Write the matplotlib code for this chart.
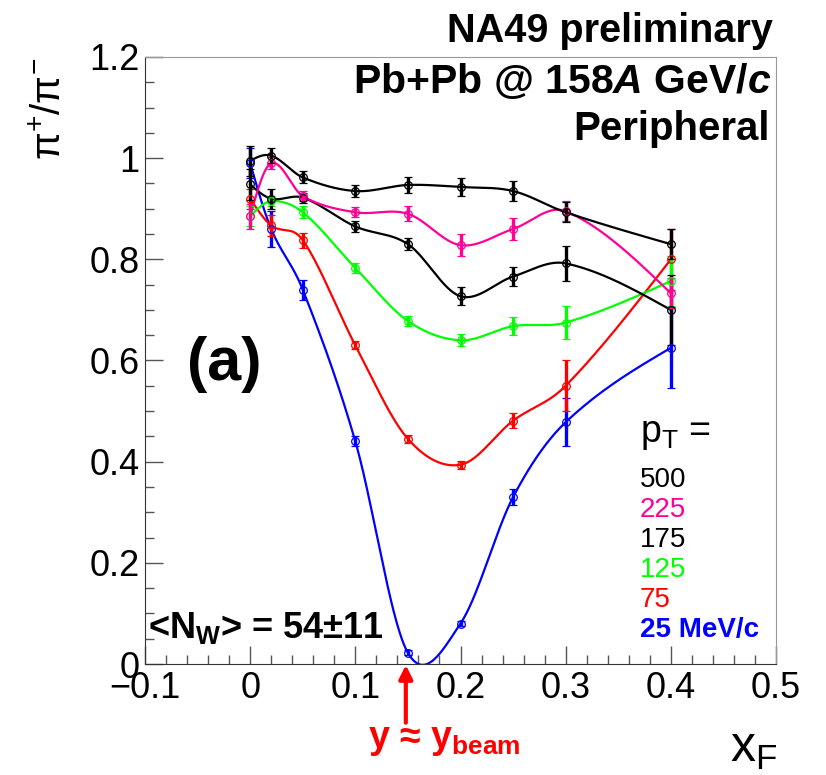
import numpy as np
import matplotlib
matplotlib.use("Agg")
import matplotlib.pyplot as plt

plt.rcParams['font.family'] = ['Liberation Sans', 'DejaVu Sans']
plt.rcParams['mathtext.fontset'] = 'custom'
plt.rcParams['mathtext.rm'] = 'Liberation Sans'
plt.rcParams['mathtext.it'] = 'Liberation Sans:italic:bold'
plt.rcParams['mathtext.bf'] = 'Liberation Sans:bold'

# data
x_f = [0, 0.02, 0.05, 0.1, 0.15, 0.2, 0.25, 0.3, 0.4]

r_500 = [0.995, 1.005, 0.962, 0.935, 0.947, 0.943, 0.935, 0.893, 0.830]
e_500 = [0.03, 0.015, 0.012, 0.012, 0.015, 0.017, 0.02, 0.02, 0.03]
r_225 = [0.885, 0.99, 0.925, 0.893, 0.89, 0.828, 0.86, 0.895, 0.733]
e_225 = [0.025, 0.012, 0.01, 0.01, 0.015, 0.022, 0.022, 0.02, 0.03]
r_175 = [0.948, 0.92, 0.922, 0.865, 0.83, 0.727, 0.766, 0.792, 0.70]
e_175 = [0.03, 0.02, 0.01, 0.01, 0.012, 0.018, 0.018, 0.035, 0.07]
r_125 = [0.885, 0.915, 0.893, 0.783, 0.678, 0.64, 0.668, 0.675, 0.757]
e_125 = [0.02, 0.01, 0.012, 0.01, 0.01, 0.012, 0.018, 0.032, 0.05]
r_75 = [0.92, 0.867, 0.838, 0.63, 0.445, 0.394, 0.481, 0.55, 0.80]
e_75 = [0.02, 0.02, 0.015, 0.008, 0.008, 0.008, 0.015, 0.05, 0.06]
r_25 = [0.99, 0.86, 0.74, 0.44, 0.022, 0.08, 0.33, 0.478, 0.625]
e_25 = [0.03, 0.035, 0.02, 0.01, 0.005, 0.005, 0.015, 0.048, 0.08]

pt_labels = ['500', '225', '175', '125', '75', '25 MeV/c']
colors = ['black', '#ff0099', 'black', '#00ff00', '#ff0000', '#0000ff']


def smooth(x, y, per=60):
    # cubic Hermite through the points, central-difference slopes,
    # natural-style slopes at the two ends
    x = np.asarray(x, float)
    y = np.asarray(y, float)
    d = np.diff(y) / np.diff(x)
    m = np.empty_like(y)
    m[1:-1] = (y[2:] - y[:-2]) / (x[2:] - x[:-2])
    m[0] = (3 * d[0] - m[1]) / 2
    m[-1] = (3 * d[-1] - m[-2]) / 2
    xs, ys = [], []
    for i in range(len(x) - 1):
        h = x[i + 1] - x[i]
        s = np.linspace(0, 1, per)
        h00 = 2 * s**3 - 3 * s**2 + 1
        h10 = s**3 - 2 * s**2 + s
        h01 = -2 * s**3 + 3 * s**2
        h11 = s**3 - s**2
        xs.append(x[i] + s * h)
        ys.append(h00 * y[i] + h10 * h * m[i] + h01 * y[i + 1] + h11 * h * m[i + 1])
    return np.concatenate(xs), np.concatenate(ys)


W, H = 826, 775
fig = plt.figure(figsize=(W / 100, H / 100), dpi=100)
ax = fig.add_axes([145 / W, 1 - 664 / H, 631 / W, 607 / H])


def px(x, y):
    return x / W, 1 - y / H


series = [(r_25, e_25, colors[5]), (r_75, e_75, colors[4]), (r_125, e_125, colors[3]),
          (r_175, e_175, colors[2]), (r_225, e_225, colors[1]), (r_500, e_500, colors[0])]
for r, e, c in series:
    xs, ys = smooth(x_f, r)
    ax.plot(xs, ys, color=c, lw=1.6, zorder=2)
    ax.errorbar(x_f, r, yerr=e, fmt='o', mfc='none', mec=c, ms=5.5, mew=0.9,
                ecolor=c, elinewidth=2.4, capsize=3, capthick=2.4, zorder=3)

ax.set_xlim(-0.1, 0.5)
ax.set_ylim(0, 1.2)
ax.set_xticks(np.arange(-0.1, 0.51, 0.1))
ax.set_xticklabels(['\u22120.1', '0', '0.1', '0.2', '0.3', '0.4', '0.5'])
ax.set_yticks(np.arange(0, 1.21, 0.2))
ax.set_yticklabels(['0', '0.2', '0.4', '0.6', '0.8', '1', '1.2'])
ax.set_xticks(np.arange(-0.1, 0.5, 0.02), minor=True)
ax.set_yticks(np.arange(0, 1.2, 0.05), minor=True)
ax.tick_params(which='both', direction='in', top=False, right=False, color='#555555')
ax.tick_params(which='major', length=13, width=1, labelsize=26)
ax.tick_params(which='minor', length=6.5, width=1)
ax.tick_params(axis='x', pad=5)
ax.tick_params(axis='y', pad=4)
for k in ['top', 'right']:
    ax.spines[k].set_color('#999999')
for k in ['left', 'bottom']:
    ax.spines[k].set_color('#333333')

fig.text(*px(50, 109), '$\\mathrm{π}^{+}/\\mathrm{π}^{-}$', rotation=90, ha='center',
         va='center', fontsize=29)
fig.text(*px(730, 762), 'x$_{\\mathrm{F}}$', ha='left', va='baseline', fontsize=36)

fig.text(*px(773, 42), 'NA49 preliminary', ha='right', va='baseline',
         fontsize=28.5, fontweight='bold')
fig.text(*px(772, 93), 'Pb+Pb @ 158$\\mathit{A}$ GeV/$\\mathit{c}$', ha='right',
         va='baseline', fontsize=29.5, fontweight='bold')
fig.text(*px(770, 140), 'Peripheral', ha='right', va='baseline',
         fontsize=29, fontweight='bold')

fig.text(*px(224, 364), '(a)', ha='center', va='center', fontsize=44,
         fontweight='bold')
fig.text(*px(148, 638), '<N$_{\\mathbf{W}}$> = 54\u00b111', ha='left',
         va='baseline', fontsize=26, fontweight='bold')

fig.text(*px(640, 442), 'p$_{\\mathrm{T}}$ =', ha='left', va='baseline', fontsize=27)
for i, (lab, c) in enumerate(zip(pt_labels, colors)):
    fig.text(*px(640, 487 + 30 * i), lab, ha='left', va='baseline',
             fontsize=20, color=c, fontweight='bold' if i == 5 else 'normal')

ax.annotate('', xy=(0.148, -0.002), xytext=(0.148, -0.116),
            xycoords='data', annotation_clip=False,
            arrowprops=dict(arrowstyle='-|>', color='red', lw=3, mutation_scale=20,
                            shrinkA=0, shrinkB=0))
fig.text(*px(444, 748), 'y \u2248 y$_{\\mathbf{beam}}$', ha='center',
         va='baseline', fontsize=27, fontweight='bold', color='red')

fig.savefig('out.png', dpi=100)
